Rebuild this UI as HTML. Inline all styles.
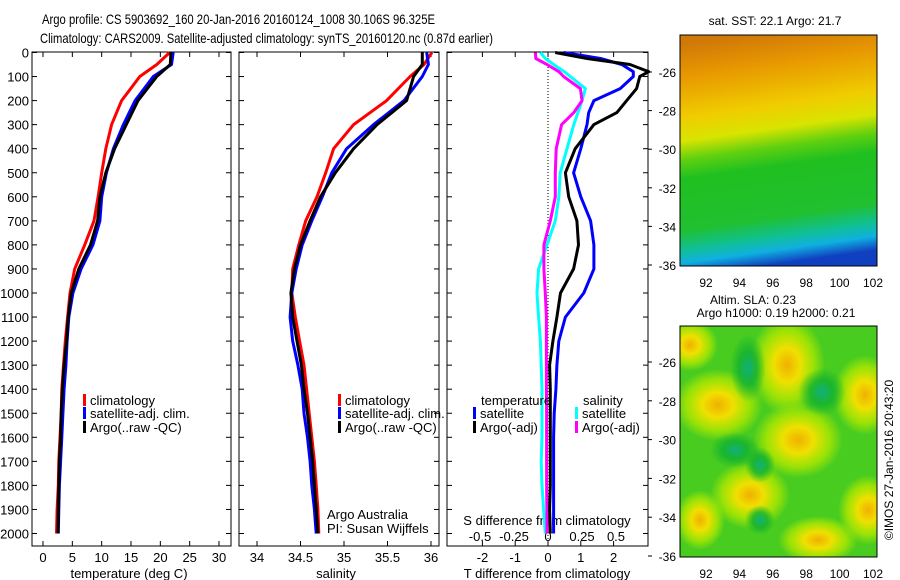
<!DOCTYPE html>
<html><head><meta charset="utf-8"><style>
html,body{margin:0;padding:0;background:#fff;width:900px;height:580px;overflow:hidden}
svg{display:block;font-family:"Liberation Sans",sans-serif}
text{fill:#000}
</style></head><body>
<svg id="fig" width="900" height="580" viewBox="0 0 900 580">
<defs>
<linearGradient id="sstg" x1="0.3" y1="0" x2="0.42" y2="1">
<stop offset="0" stop-color="#d07808"/><stop offset="0.15" stop-color="#e89a00"/><stop offset="0.32" stop-color="#f0cc00"/>
<stop offset="0.42" stop-color="#d8e400"/><stop offset="0.5" stop-color="#60d010"/><stop offset="0.58" stop-color="#20c020"/><stop offset="0.8" stop-color="#20c030"/>
<stop offset="0.88" stop-color="#10c090"/><stop offset="0.94" stop-color="#10b0e0"/><stop offset="1" stop-color="#1040c0"/>
</linearGradient>
<radialGradient id="yb"><stop offset="0" stop-color="#f0b000"/><stop offset="0.35" stop-color="#f0e000"/><stop offset="0.7" stop-color="#b0e800" stop-opacity="0.8"/><stop offset="1" stop-color="#b0e800" stop-opacity="0"/></radialGradient>
<radialGradient id="tb"><stop offset="0" stop-color="#10b080"/><stop offset="0.5" stop-color="#10b030" stop-opacity="0.8"/><stop offset="1" stop-color="#10b030" stop-opacity="0"/></radialGradient>
<clipPath id="c1"><rect x="680" y="326" width="197" height="231"/></clipPath>
</defs>
<g id="titles">
<text x="42" y="24" font-size="14" textLength="393" lengthAdjust="spacingAndGlyphs">Argo profile: CS 5903692_160 20-Jan-2016 20160124_1008 30.106S 96.325E</text>
<text x="40" y="43" font-size="14" textLength="453" lengthAdjust="spacingAndGlyphs">Climatology: CARS2009. Satellite-adjusted climatology: synTS_20160120.nc (0.87d earlier)</text>
</g>
<g id="plots"></g>
<g id="maps">
<text x="775" y="25" font-size="12" text-anchor="middle">sat. SST: 22.1 Argo: 21.7</text>
<rect x="680" y="35" width="197" height="231" fill="url(#sstg)"/>
<text x="753" y="304" font-size="12" text-anchor="middle">Altim. SLA: 0.23</text>
<text x="776" y="317" font-size="12" text-anchor="middle">Argo h1000: 0.19 h2000: 0.21</text>
<g clip-path="url(#c1)">
<rect x="680" y="326" width="197" height="231" fill="#48cc20"/>
<ellipse cx="787" cy="365" rx="38" ry="50" fill="url(#yb)"/>
<ellipse cx="718" cy="405" rx="45" ry="36" fill="url(#yb)"/>
<ellipse cx="798" cy="440" rx="45" ry="38" fill="url(#yb)"/>
<ellipse cx="750" cy="495" rx="40" ry="34" fill="url(#yb)"/>
<ellipse cx="865" cy="395" rx="32" ry="40" fill="url(#yb)"/>
<ellipse cx="868" cy="510" rx="30" ry="35" fill="url(#yb)"/>
<ellipse cx="690" cy="345" rx="28" ry="26" fill="url(#yb)"/>
<ellipse cx="818" cy="540" rx="40" ry="24" fill="url(#yb)"/>
<ellipse cx="700" cy="520" rx="25" ry="30" fill="url(#yb)"/>
<ellipse cx="748" cy="368" rx="18" ry="34" fill="url(#tb)"/>
<ellipse cx="822" cy="392" rx="24" ry="24" fill="url(#tb)"/>
<ellipse cx="760" cy="465" rx="15" ry="18" fill="url(#tb)"/>
<ellipse cx="735" cy="450" rx="25" ry="18" fill="url(#tb)"/>
<ellipse cx="760" cy="520" rx="15" ry="15" fill="url(#tb)"/>
</g>
<rect x="680" y="326" width="197" height="231" fill="none" stroke="#000"/>
<rect x="680" y="35" width="197" height="231" fill="none" stroke="#000"/>
<text transform="translate(893,460) rotate(-90)" font-size="12" text-anchor="middle">©IMOS 27-Jan-2016 20:43:20</text>
</g>
</svg>
<script>
const depths=[0,50,100,200,300,400,500,600,700,800,900,1000,1100,1200,1300,1400,1500,1600,1700,1800,1900,2000];
const tClim=[21.6,19.4,16.5,13.4,11.7,10.7,10,9.4,8.7,7.1,5.4,4.6,4.2,3.8,3.5,3.2,3.1,2.9,2.7,2.6,2.4,2.3];
const tSat=[22.2,21.9,18.8,15.7,13.7,12,10.8,10,9.7,8.5,6.5,5.1,4.4,4.1,3.9,3.6,3.4,3.2,3.0,2.8,2.7,2.6];
const tArgo=[21.8,21.7,19.4,16.2,14.2,12.2,10.7,9.7,9.3,8.1,6.1,4.8,4.3,4.0,3.6,3.3,3.1,3.0,2.8,2.7,2.6,2.55];
const sClim=[36.01,35.92,35.76,35.49,35.11,34.88,34.79,34.69,34.56,34.48,34.41,34.40,34.44,34.49,34.54,34.57,34.60,34.63,34.66,34.68,34.70,34.71];
const sSat=[35.95,35.97,35.9,35.69,35.34,35.03,34.86,34.75,34.63,34.52,34.45,34.40,34.38,34.41,34.47,34.52,34.54,34.58,34.61,34.63,34.66,34.68];
const sArgo=[35.9,35.9,35.8,35.72,35.38,35.11,34.9,34.73,34.61,34.5,34.43,34.39,34.41,34.46,34.51,34.54,34.58,34.61,34.64,34.66,34.68,34.7];
const dDepths=[0,25,50,80,100,150,200,250,300,400,500,600,700,800,900,1000,1100,1200,1300,1400,1500,1600,1700,1800,1900,2000];
const dtSat=[0.48,1.6,2.25,2.6,2.6,2.2,1.4,1.24,1.19,1.0,0.78,1.0,1.3,1.4,1.4,1.09,0.53,0.33,0.27,0.24,0.19,0.17,0.17,0.17,0.17,0.17];
const dtArgo=[0.22,1.19,2.5,3.07,2.8,2.7,2.4,2.1,1.4,0.83,0.53,0.63,0.88,0.93,0.78,0.38,0.27,0.15,0.05,0.07,0.07,0.07,0.07,0.07,0.05,0.07];
const dsSat=[-0.056,-0.02,0.042,0.12,0.164,0.275,0.25,0.22,0.19,0.14,0.09,0.08,0.054,-0.007,-0.069,-0.081,-0.069,-0.056,-0.05,-0.044,-0.044,-0.044,-0.05,-0.044,-0.032,-0.02];
const dsArgo=[-0.093,-0.09,-0.007,0.08,0.115,0.238,0.25,0.19,0.1,0.06,0.054,0.054,0.017,-0.03,-0.03,-0.02,-0.012,-0.012,-0.012,-0.012,-0.01,-0.01,-0.01,-0.01,-0.008,-0.007];
const depthTicks=[0,100,200,300,400,500,600,700,800,900,1000,1100,1200,1300,1400,1500,1600,1700,1800,1900,2000];
const tTicks=[0,5,10,15,20,25,30];
const sTicks=[34,34.5,35,35.5,36];
const dtTicks=[-2,-1,0,1,2];
const dsTicks=[-0.5,-0.25,0,0.25,0.5];
const dsTickLabels=['-0.5','-0.25','0','0.25','0.5'];
const latTicks=[-26,-28,-30,-32,-34,-36];
const lonTicks=[92,94,96,98,100,102];

const NS='http://www.w3.org/2000/svg';
const g=document.getElementById('plots');
function mk(tag,at,parent){const e=document.createElementNS(NS,tag);for(const k in at)e.setAttribute(k,at[k]);(parent||g).appendChild(e);return e;}
const Y0=52,Y1=546;
const yD=d=>52.5+d*0.2405;
const xT=v=>43+v*5.867;
const xS=v=>257+(v-34)*87;
const xDT=v=>548+v*32.8;
const xDS=v=>548+v*136;
const panels=[[32,231],[239,439],[447,648]];
panels.forEach((p,i)=>{
  const r=mk('rect',{x:p[0],y:Y0,width:p[1]-p[0],height:Y1-Y0,fill:'none',stroke:'#000'});
  
  
  depthTicks.forEach(d=>{
    mk('line',{x1:p[0],x2:p[0]+5,y1:yD(d),y2:yD(d),stroke:'#000'});
    mk('line',{x1:p[1]-5,x2:p[1],y1:yD(d),y2:yD(d),stroke:'#000'});
  });
});
depthTicks.forEach(d=>{
  const t=mk('text',{x:29,y:yD(d)+5,'font-size':13,'text-anchor':'end'});
  t.textContent=d;
  
  
});
function xticks(vals,fx,labels,y){
  vals.forEach((v,i)=>{
    const x=fx(v);
    mk('line',{x1:x,x2:x,y1:Y0,y2:Y0+5,stroke:'#000'});
    mk('line',{x1:x,x2:x,y1:Y1-5,y2:Y1,stroke:'#000'});
    const t=mk('text',{x:x,y:y,'font-size':13,'text-anchor':'middle'});
    t.textContent=labels?labels[i]:v;
    
    
  });
}
xticks(tTicks,xT,null,562);
xticks(sTicks,xS,null,562);
xticks(dtTicks,xDT,null,562);
dsTicks.forEach((v,i)=>{
  const t=mk('text',{x:xDS(v),y:541,'font-size':13,'text-anchor':'middle'});
  t.textContent=dsTickLabels[i];
  
  
});
function lbl(x,y,s,name,anchor,fs){const t=mk('text',{x:x,y:y,'font-size':fs||13,'text-anchor':anchor||'start'});t.textContent=s;return t;}
lbl(129,578,'temperature (deg C)','x-axis-title-temperature','middle');
lbl(336,578,'salinity','x-axis-title-salinity','middle');
lbl(547,578,'T difference from climatology','x-axis-title-t-diff','middle');
lbl(547,525,'S difference from climatology','x-axis-title-s-diff','middle');
lbl(327,519,'Argo Australia','credit-line-1');
lbl(327,533,'PI: Susan Wijffels','credit-line-2');
const zl=mk('line',{x1:548,x2:548,y1:Y0,y2:Y1,stroke:'#000','stroke-dasharray':'1,2'});


function series(xs,ds,fx,color,name){
  const pts=xs.map((v,i)=>fx(v).toFixed(1)+','+yD(ds[i]).toFixed(1)).join(' ');
  const e=mk('polyline',{points:pts,fill:'none',stroke:color,'stroke-width':3,'stroke-linejoin':'round'});
  
  
}
series(tClim,depths,xT,'#f00','temp-climatology-line');
series(tSat,depths,xT,'#00f','temp-satellite-line');
series(tArgo,depths,xT,'#000','temp-argo-line');
series(sClim,depths,xS,'#f00','sal-climatology-line');
series(sSat,depths,xS,'#00f','sal-satellite-line');
series(sArgo,depths,xS,'#000','sal-argo-line');
series(dsSat,dDepths,xDS,'#0ff','sdiff-satellite-line');
series(dsArgo,dDepths,xDS,'#f0f','sdiff-argo-line');
series(dtSat,dDepths,xDT,'#00f','tdiff-satellite-line');
series(dtArgo,dDepths,xDT,'#000','tdiff-argo-line');
function leg(x,y,color,s,name){
  const m=mk('rect',{x:x,y:y-11,width:3,height:12,fill:color});
  
  
  lbl(x+7,y,s,name);
}
[83,338].forEach(x=>{
  leg(x,405,'#f00','climatology','legend-climatology');
  leg(x,418,'#00f','satellite-adj. clim.','legend-satellite-adj');
  leg(x,432,'#000','Argo(..raw -QC)','legend-argo');
});
lbl(481,405,'temperature','legend-temperature-header');
lbl(583,405,'salinity','legend-salinity-header');
leg(473,418,'#00f','satellite','legend-t-satellite');
leg(473,432,'#000','Argo(-adj)','legend-t-argo');
leg(575,418,'#0ff','satellite','legend-s-satellite');
leg(575,432,'#f0f','Argo(-adj)','legend-s-argo');
[[35,266,72,265],[326,557,362,556]].forEach(m=>{
  latTicks.forEach(v=>{
    const y=m[2]+(-26-v)*(m[3]-m[2])/10;
    mk('line',{x1:680,x2:684,y1:y,y2:y,stroke:'#000'});
    mk('line',{x1:873,x2:877,y1:y,y2:y,stroke:'#000'});
    mk('line',{x1:648,x2:652,y1:y,y2:y,stroke:'#000'});
    lbl(676,y+5,String(v),'lat-tick-label','end',12);
  });
  lonTicks.forEach(v=>{
    const x=706+(v-92)*16.7;
    mk('line',{x1:x,x2:x,y1:m[0],y2:m[0]+4,stroke:'#000'});
    mk('line',{x1:x,x2:x,y1:m[1]-4,y2:m[1],stroke:'#000'});
    lbl(x,m[1]+21,String(v),'lon-tick-label','middle',12);
  });
});
</script>
</body></html>
